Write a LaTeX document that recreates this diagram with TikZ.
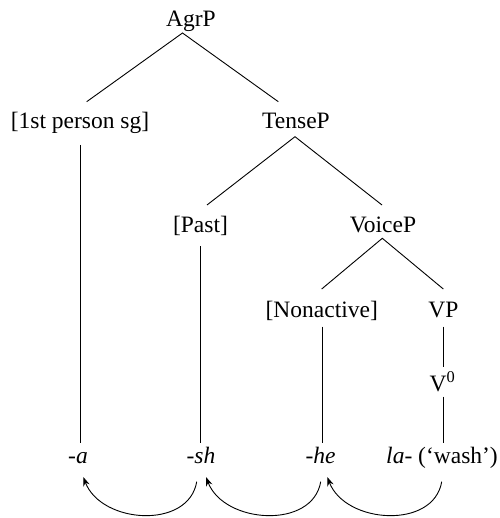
\documentclass[tikz,border=0pt]{standalone}
\usepackage{fontspec}
\setmainfont{Liberation Serif}
\usetikzlibrary{arrows.meta}
\begin{document}
\begin{tikzpicture}[x=1pt,y=-1pt,
  every node/.style={inner sep=0pt, anchor=base, font=\fontsize{23.5}{28}\selectfont},
  branch/.style={line width=0.9pt},
  move/.style={line width=0.9pt, -{Stealth[length=9pt,width=6.5pt]}}]
\path[use as bounding box] (0,0) rectangle (499,518);
% labels
\node (agrp) at (191,27) {AgrP};
\node (onesg) at (80,128.5) {[1st person sg]};
\node (tensep) at (296,128.5) {TenseP};
\node (past) at (200.5,233) {[Past]};
\node (voicep) at (383,233) {VoiceP};
\node (nonact) at (321.7,317) {[Nonactive]};
\node (vp) at (443.5,317) {VP};
\node (vzero) at (442.5,391.7) {V\textsuperscript{0}};
\node (a) at (78,463) {\textit{-a}};
\node (sh) at (201,463) {\textit{-sh}};
\node (he) at (320.5,463) {\textit{-he}};
\node (la) at (442,463) {\textit{la-} (‘wash’)};
% branch points
\coordinate (agrp-b) at (182.5,33);
\coordinate (onesg-t) at (86.7,101.7);
\coordinate (tensep-t) at (278.3,101.7);
\coordinate (tensep-b) at (295,136.7);
\coordinate (past-t) at (207,205);
\coordinate (voicep-t) at (382,205);
\coordinate (voicep-b) at (382.3,238.3);
\coordinate (nonact-t) at (321.7,289);
\coordinate (vp-t) at (443.3,289);
\coordinate (onesg-b) at (80.5,145);
\coordinate (a-t) at (80.5,443);
\coordinate (past-b) at (200.5,246);
\coordinate (sh-t) at (200.5,443);
\coordinate (nonact-b) at (322,326.7);
\coordinate (he-t) at (322,443);
\coordinate (vp-b) at (443,326.7);
\coordinate (vzero-t) at (443,367.3);
\coordinate (vzero-b) at (443,396.7);
\coordinate (la-t) at (443,443);
% arrow ends
\coordinate (sh-s) at (196.7,481.7);
\coordinate (a-e) at (83.3,477);
\coordinate (he-s) at (320.7,481.7);
\coordinate (sh-e) at (206,477);
\coordinate (la-s) at (441.7,481.7);
\coordinate (he-e) at (327.3,477);
% tree
\draw[branch] (onesg-t) -- (agrp-b) -- (tensep-t);
\draw[branch] (past-t) -- (tensep-b) -- (voicep-t);
\draw[branch] (nonact-t) -- (voicep-b) -- (vp-t);
\draw[branch] (onesg-b) -- (a-t);
\draw[branch] (past-b) -- (sh-t);
\draw[branch] (nonact-b) -- (he-t);
\draw[branch] (vp-b) -- (vzero-t);
\draw[branch] (vzero-b) -- (la-t);
% movement arrows
\draw[move] (sh-s) .. controls +(-8,48) and +(18,47) .. (a-e);
\draw[move] (he-s) .. controls +(-8,48) and +(18,47) .. (sh-e);
\draw[move] (la-s) .. controls +(-8,48) and +(18,47) .. (he-e);
\end{tikzpicture}
\end{document}
